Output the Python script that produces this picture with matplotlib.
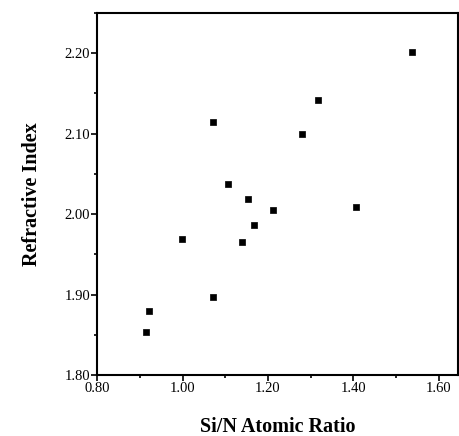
import matplotlib as mpl; mpl.use('agg')
import matplotlib.pyplot as plt
from matplotlib.ticker import MultipleLocator, FormatStrFormatter

# Si/N ratio vs refractive index
si_n_ratio = [1.537, 1.317, 1.280, 1.071, 1.106, 1.153, 1.212, 1.406,
              1.167, 1.139, 0.998, 1.071, 0.922, 0.915]
refr_index = [2.201, 2.142, 2.100, 2.114, 2.038, 2.019, 2.005, 2.009,
              1.986, 1.965, 1.969, 1.897, 1.880, 1.853]

plt.rcParams['font.family'] = 'Liberation Serif'

fig = plt.figure(figsize=(4.6, 4.36), dpi=100)
ax = fig.add_axes([0.211, 0.14, 0.785, 0.83])

ax.scatter(si_n_ratio, refr_index, marker='s', s=14, color='black',
           edgecolors='black', linewidths=0.5, zorder=3)

ax.set_xlim(0.80, 1.645)
ax.set_ylim(1.80, 2.25)
ax.xaxis.set_major_locator(MultipleLocator(0.2))
ax.xaxis.set_minor_locator(MultipleLocator(0.1))
ax.yaxis.set_major_locator(MultipleLocator(0.1))
ax.yaxis.set_minor_locator(MultipleLocator(0.05))
ax.xaxis.set_major_formatter(FormatStrFormatter('%.2f'))
ax.yaxis.set_major_formatter(FormatStrFormatter('%.2f'))

ax.tick_params(which='major', direction='out', length=4, width=1.2,
               labelsize=10.5, pad=1)
ax.tick_params(which='minor', direction='out', length=2.5, width=1.2)
for s in ax.spines.values():
    s.set_linewidth(1.5)

ax.set_xlabel('Si/N Atomic Ratio', fontsize=14.5, fontweight='bold', labelpad=16)
ax.set_ylabel('Refractive Index', fontsize=14.5, fontweight='bold', labelpad=16)

fig.savefig('out.png', dpi=100)
